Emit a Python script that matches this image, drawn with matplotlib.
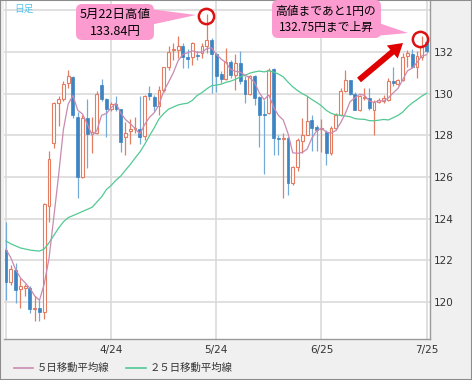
import numpy as np
import pandas as pd
import matplotlib
matplotlib.use("Agg")
import matplotlib.pyplot as plt
from matplotlib.patches import FancyBboxPatch, Polygon, FancyArrow, Rectangle
from matplotlib.lines import Line2D

plt.rcParams['font.family'] = ['Noto Sans CJK JP', 'DejaVu Sans']

# daily candles, 2013-03-25 .. 2013-07-25 (business days)
opens = [122.5, 120.98, 121.54, 120.64, 120.7, 120.69, 119.68, 119.7, 119.52, 124.6,
         127.65, 129.54, 129.76, 130.53, 130.8, 128.9, 126.0, 128.85, 128.08, 128.13,
         130.4, 129.73, 129.25, 129.5, 129.25, 127.94, 128.2, 128.29, 128.32, 127.96,
         130.03, 129.84, 129.43, 130.2, 131.28, 132.1, 132.1, 132.3, 131.74, 131.76,
         131.87, 131.95, 132.3, 132.56, 131.9, 130.96, 130.7, 131.5, 130.9, 131.47,
         130.67, 130.0, 130.87, 129.83, 129.03, 129.08, 131.19, 127.88, 127.84, 127.88,
         125.7, 126.5, 127.72, 128.04, 128.72, 128.4, 128.3, 128.15, 127.16, 128.36,
         129.0, 130.12, 130.64, 130.0, 129.24, 129.8, 129.8, 129.24, 129.6, 129.64,
         129.72, 130.6, 130.48, 130.67, 131.8, 131.92, 131.3, 131.76, 132.46]
highs = [123.86, 121.8, 121.9, 121.17, 120.85, 120.77, 120.29, 120.1, 124.77, 127.25,
         129.6, 129.9, 130.6, 131.14, 130.85, 129.1, 129.0, 129.76, 128.88, 130.13,
         130.72, 129.8, 129.6, 129.9, 129.28, 128.64, 128.77, 128.9, 129.9, 129.95,
         130.39, 129.95, 130.35, 131.3, 132.27, 132.43, 132.78, 132.43, 132.14, 132.5,
         132.06, 132.43, 133.84, 132.67, 132.0, 131.07, 132.19, 131.6, 131.9, 132.03,
         130.83, 130.9, 130.9, 129.88, 129.7, 131.23, 131.23, 128.0, 128.13, 127.9,
         126.55, 127.88, 128.84, 129.88, 129.0, 128.5, 128.77, 128.28, 128.44, 129.08,
         130.27, 131.12, 130.67, 130.07, 129.96, 130.27, 130.27, 129.72, 129.8, 129.96,
         130.75, 131.3, 130.7, 131.95, 132.1, 132.14, 132.03, 132.75, 132.56]
lows = [120.1, 120.8, 119.94, 119.73, 120.3, 119.49, 119.1, 119.1, 119.17, 123.84,
        127.4, 128.45, 129.65, 130.29, 128.85, 125.0, 125.97, 126.45, 127.14, 128.05,
        129.65, 127.9, 129.17, 129.17, 127.2, 127.04, 127.57, 128.1, 127.57, 127.8,
        129.7, 129.16, 129.0, 130.1, 131.15, 131.63, 131.7, 131.23, 131.23, 131.4,
        131.6, 131.7, 131.95, 130.04, 130.1, 130.5, 130.67, 130.75, 130.2, 130.48,
        129.56, 129.95, 129.48, 127.45, 126.17, 129.04, 127.08, 127.07, 125.0, 125.16,
        125.64, 126.28, 127.16, 128.0, 127.24, 127.24, 127.2, 126.6, 127.08, 128.28,
        128.92, 130.07, 129.95, 129.2, 129.16, 129.7, 129.24, 128.04, 129.55, 129.55,
        129.64, 130.35, 130.44, 130.6, 131.3, 131.23, 130.75, 131.63, 131.95]
closes = [120.98, 121.57, 120.58, 120.77, 120.74, 119.68, 119.73, 119.52, 124.69, 126.88,
          129.54, 129.76, 130.48, 130.85, 128.96, 126.0, 128.85, 128.08, 128.18, 130.0,
          129.73, 129.25, 129.49, 129.25, 127.68, 128.13, 128.29, 128.32, 127.94, 129.9,
          129.87, 129.4, 130.2, 131.28, 132.0, 132.14, 132.27, 131.74, 131.68, 132.43,
          131.82, 132.3, 132.59, 131.9, 130.83, 130.7, 131.5, 130.9, 131.47, 130.6,
          130.0, 130.87, 129.8, 128.96, 128.96, 131.15, 127.88, 127.84, 127.88, 125.72,
          126.5, 127.77, 128.04, 128.68, 128.36, 128.28, 128.36, 127.16, 128.36, 129.0,
          130.12, 130.64, 130.0, 129.24, 129.88, 129.86, 129.3, 129.6, 129.7, 129.8,
          130.6, 130.5, 130.67, 131.76, 131.95, 131.3, 131.8, 132.27, 132.03]

# moving-average values at the left edge (their earlier closes are off the chart)
ma5_head = [122.53, 122.13, 121.57, 121.17]
ma25_head = [122.93, 122.8, 122.7, 122.6, 122.55, 122.5, 122.47, 122.45, 122.55, 122.85,
             123.2, 123.55, 123.85, 124.05, 124.15, 124.25, 124.35, 124.45, 124.55, 124.8,
             125.05, 125.4, 125.6, 125.85]

grid_dates = ['2013-03-25', '2013-04-24', '2013-05-24', '2013-06-25', '2013-07-25']
y_ticks = [120, 122, 124, 126, 128, 130, 132]
y_grid = [120, 122, 124, 126, 128, 130, 132, 134]

dates = pd.bdate_range('2013-03-25', '2013-07-25')
x = np.arange(len(dates))
o, h, l, c = map(np.array, (opens, highs, lows, closes))
ma5 = pd.Series(c).rolling(5).mean().to_numpy()
ma5[:len(ma5_head)] = ma5_head
ma25 = pd.Series(c).rolling(25).mean().to_numpy()
ma25[:len(ma25_head)] = ma25_head

W, H = 472, 380
fig = plt.figure(figsize=(W / 100, H / 100), dpi=100, facecolor='#f0f0f0')
ax = fig.add_axes([4 / W, 1 - 339 / H, 426 / W, 338 / H])
ax.set_facecolor('white')
ax.set_xlim(-0.42, 88.71)
ax.set_ylim(118.23, 134.45)

# grid
gx = [dates.get_loc(pd.Timestamp(d)) for d in grid_dates]
for g in gx:
    ax.axvline(g, color='#dadada', lw=1.2, zorder=0)
for g in y_grid:
    ax.axhline(g, color='#dadada', lw=1.2, zorder=0)

# candles
up = c >= o
col_up = '#e47c62'
col_dn = '#3c84c2'
wick_dn = '#74aad8'
ax.vlines(x[up], l[up], h[up], color=col_up, lw=0.9, zorder=2)
ax.vlines(x[~up], l[~up], h[~up], color=wick_dn, lw=0.9, zorder=2)
body = np.maximum(np.abs(c - o), 0.05)
ax.bar(x[up], body[up], bottom=np.minimum(o, c)[up], width=0.6,
       facecolor='white', edgecolor=col_up, lw=0.8, zorder=3)
ax.bar(x[~up], body[~up], bottom=np.minimum(o, c)[~up], width=0.6,
       facecolor=col_dn, edgecolor=col_dn, lw=0.5, zorder=3)

ax.plot(x, ma25, color='#52c994', lw=0.9, zorder=4)
ax.plot(x, ma5, color='#c98ab0', lw=0.9, zorder=4)

# circles around the two highs
i1 = int(np.argmax(h))
i2 = 87
for i, dx in ((i1, -0.2), (i2, -0.3)):
    ax.plot(x[i] + dx, h[i] - 0.1, 'o', ms=11, mfc='none', mec='#dd1111', mew=1.8,
            zorder=6, clip_on=False)

ax.yaxis.tick_right()
ax.set_yticks(y_ticks)
ax.set_yticklabels([str(v) for v in y_ticks], family='DejaVu Sans')
ax.set_xticks(gx)
ax.set_xticklabels([''] + [f'{dates[g].month}/{dates[g].day}' for g in gx[1:]],
                   family='DejaVu Sans')
ax.tick_params(length=0, labelsize=7.5, labelcolor='#333333')
ax.tick_params(axis='y', pad=3)
ax.tick_params(axis='x', pad=4)
for s in ('top', 'left'):
    ax.spines[s].set_visible(False)
for s in ('right', 'bottom'):
    ax.spines[s].set_color('#9a9a9a')
    ax.spines[s].set_linewidth(1.0)

# overlay in pixel coordinates for callouts and legend
ov = fig.add_axes([0, 0, 1, 1], zorder=10)
ov.set_xlim(0, W)
ov.set_ylim(H, 0)
ov.axis('off')
ov.patch.set_alpha(0)

pink = '#fc9bd0'
ov.add_patch(FancyBboxPatch((76, 4), 78, 36, boxstyle='round,pad=0,rounding_size=6',
                            fc=pink, ec='none'))
ov.add_patch(Polygon([(150, 9), (196, 15), (150, 25)], closed=True, fc=pink, ec='none'))
ov.text(115, 14, '5月22日高値', ha='center', va='center', fontsize=9, color='black')
ov.text(115, 31, '133.84円', ha='center', va='center', fontsize=9, color='black')

ov.add_patch(FancyBboxPatch((272, 0), 109, 38, boxstyle='round,pad=0,rounding_size=6',
                            fc=pink, ec='none'))
ov.add_patch(Polygon([(370, 20), (408, 33), (352, 38)], closed=True, fc=pink, ec='none'))
ov.text(326, 11.5, '高値まであと1円の', ha='center', va='center', fontsize=8.5, color='black')
ov.text(326, 27, '132.75円まで上昇', ha='center', va='center', fontsize=8.5, color='black')

ov.add_patch(FancyArrow(359, 80, 44, -37, width=6, head_width=17, head_length=14,
                        length_includes_head=True, color='#e00000', lw=0))

ov.text(14, 9, '日足', ha='left', va='center', fontsize=7, color='#55c4ee')

# legend
ov.add_line(Line2D([14, 33], [368, 368], color='#c98ab0', lw=1.2))
ov.text(37, 368, '５日移動平均線', ha='left', va='center', fontsize=7.5, color='#333333')
ov.add_line(Line2D([126, 146], [368, 368], color='#52c994', lw=1.2))
ov.text(150, 368, '２５日移動平均線', ha='left', va='center', fontsize=7.5, color='#333333')

fig.add_artist(Rectangle((0, 0), 1, 1, transform=fig.transFigure, fill=False,
                         ec='#8c8c8c', lw=1.5))

fig.savefig('out.png', dpi=100, facecolor=fig.get_facecolor())
